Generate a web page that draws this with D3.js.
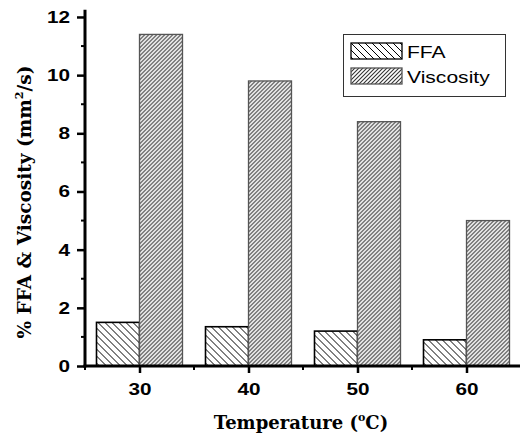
<!DOCTYPE html>
<html>
<head>
<meta charset="utf-8">
<script src="https://cdn.jsdelivr.net/npm/d3@7"></script>
<style>
  html, body { margin: 0; padding: 0; background: #fff; }
  svg { display: block; }
</style>
</head>
<body>
<svg id="chart" width="520" height="437"></svg>
<script>
// Reaction temperature (°C)
const temperatures = [30, 40, 50, 60];
// Series names
const seriesNames = ["FFA", "Viscosity"];
// % FFA at each temperature
const ffaValues = [1.5, 1.35, 1.2, 0.9];
// Kinematic viscosity (mm²/s) at each temperature
const viscosityValues = [11.4, 9.8, 8.4, 5.0];
// Axis ticks
const yTicks = [0, 2, 4, 6, 8, 10, 12];
const yMinorTicks = [1, 3, 5, 7, 9, 11];
const xMinorTicks = [25, 35, 45, 55, 65];

const svg = d3.select("#chart");
const defs = svg.append("defs");

const left = 85, bottom = 366, right = 521, topY = 9.7;
const sansFont = "'Liberation Sans', Arial, sans-serif";
const widen = 1.22; // horizontal stretch applied to sans labels

const x = d3.scaleLinear().domain([25, 65]).range([left, right]);
const y = d3.scaleLinear().domain([0, 12.25]).range([bottom, topY]);
const inner = d3.scaleBand().domain(seriesNames).range([-43, 43]).padding(0);

// Hatch patterns
const pFFA = defs.append("pattern")
  .attr("id", "hatch-ffa").attr("patternUnits", "userSpaceOnUse")
  .attr("width", 7).attr("height", 7);
pFFA.append("rect").attr("width", 7).attr("height", 7).attr("fill", "#fff");
pFFA.append("path").attr("d", "M-1,-1 L8,8 M-1,6 L1,8 M6,-1 L8,1")
  .attr("stroke", "#000").attr("stroke-width", 1);

const pVis = defs.append("pattern")
  .attr("id", "hatch-vis").attr("patternUnits", "userSpaceOnUse")
  .attr("width", 4).attr("height", 4);
pVis.append("rect").attr("width", 4).attr("height", 4).attr("fill", "#fff");
pVis.append("path").attr("d", "M-1,5 L5,-1 M-1,1 L1,-1 M3,5 L5,3")
  .attr("stroke", "#333").attr("stroke-width", 1.1);

const fills = { FFA: "url(#hatch-ffa)", Viscosity: "url(#hatch-vis)" };
const strokes = { FFA: "#000", Viscosity: "#555" };
const rows = temperatures.map((t, i) => ({ t, FFA: ffaValues[i], Viscosity: viscosityValues[i] }));

// Bars
const groups = svg.append("g").selectAll("g").data(rows).join("g")
  .attr("transform", d => `translate(${x(d.t)},0)`);
groups.selectAll("rect")
  .data(d => seriesNames.map(k => ({ k, v: d[k] })))
  .join("rect")
  .attr("x", d => inner(d.k))
  .attr("width", inner.bandwidth())
  .attr("y", d => y(d.v))
  .attr("height", d => y(0) - y(d.v))
  .attr("fill", d => fills[d.k])
  .attr("stroke", d => strokes[d.k])
  .attr("stroke-width", d => d.k === "FFA" ? 1.6 : 1.3);

// Y axis
const yAxis = svg.append("g").attr("transform", `translate(${left},0)`)
  .call(d3.axisLeft(y).tickValues(yTicks).tickSize(8).tickPadding(4));
yAxis.append("g").selectAll("line").data(yMinorTicks).join("line")
  .attr("x1", -4).attr("x2", 0).attr("y1", d => y(d)).attr("y2", d => y(d))
  .attr("stroke", "#000").attr("stroke-width", 2);

// X axis
const xAxis = svg.append("g").attr("transform", `translate(0,${bottom})`)
  .call(d3.axisBottom(x).tickValues(temperatures).tickSize(7).tickPadding(10));
xAxis.append("g").selectAll("line").data(xMinorTicks).join("line")
  .attr("x1", d => x(d)).attr("x2", d => x(d)).attr("y1", 0).attr("y2", 4)
  .attr("stroke", "#000").attr("stroke-width", 2);

[yAxis, xAxis].forEach(a => {
  a.select(".domain").attr("stroke", "#000").attr("stroke-width", 3);
  a.selectAll(".tick line").attr("stroke", "#000").attr("stroke-width", 2.5);
  a.selectAll(".tick text")
    .attr("fill", "#000")
    .style("font-family", sansFont)
    .style("font-weight", "bold")
    .style("font-size", "17px");
});
yAxis.selectAll(".tick text").attr("x", 0)
  .attr("transform", `translate(-15,0) scale(${widen},1)`);
xAxis.selectAll(".tick text")
  .attr("transform", `scale(${widen},1)`);
yAxis.select(".domain").attr("d", `M0,${y.range()[1]}V${bottom + 1.5}`);
xAxis.select(".domain").attr("d", `M${left - 1.5},0H${right}`);

// Axis titles
const titleFont = "'DejaVu Serif', 'Liberation Serif', serif";
const xt = svg.append("text")
  .attr("x", 301).attr("y", 429)
  .attr("text-anchor", "middle")
  .style("font-family", titleFont).style("font-weight", "bold").style("font-size", "18px");
xt.append("tspan").text("Temperature (");
xt.append("tspan").text("o").attr("dy", -8).style("font-size", "11px");
xt.append("tspan").text("C)").attr("dy", 8);

const yt = svg.append("text")
  .attr("transform", "translate(31,202) rotate(-90)")
  .attr("text-anchor", "middle")
  .style("font-family", titleFont).style("font-weight", "bold").style("font-size", "18.5px");
yt.append("tspan").text("% FFA & Viscosity (mm");
yt.append("tspan").text("2").attr("dy", -8).style("font-size", "11px");
yt.append("tspan").text("/s)").attr("dy", 8);

// Legend
const legend = svg.append("g");
legend.append("rect")
  .attr("x", 343.5).attr("y", 34.5).attr("width", 162).attr("height", 62)
  .attr("fill", "#fff").attr("stroke", "#333").attr("stroke-width", 1);
const items = legend.selectAll("g.item").data(seriesNames).join("g")
  .attr("class", "item")
  .attr("transform", (d, i) => `translate(351,${43 + i * 25})`);
items.append("rect")
  .attr("width", 51).attr("height", 16)
  .attr("fill", d => fills[d]).attr("stroke", d => strokes[d]).attr("stroke-width", 1.3);
items.append("text")
  .attr("transform", `translate(56,15) scale(1.24,1)`)
  .text(d => d)
  .style("font-family", sansFont)
  .style("font-size", "17px").attr("fill", "#000");
</script>
</body>
</html>
